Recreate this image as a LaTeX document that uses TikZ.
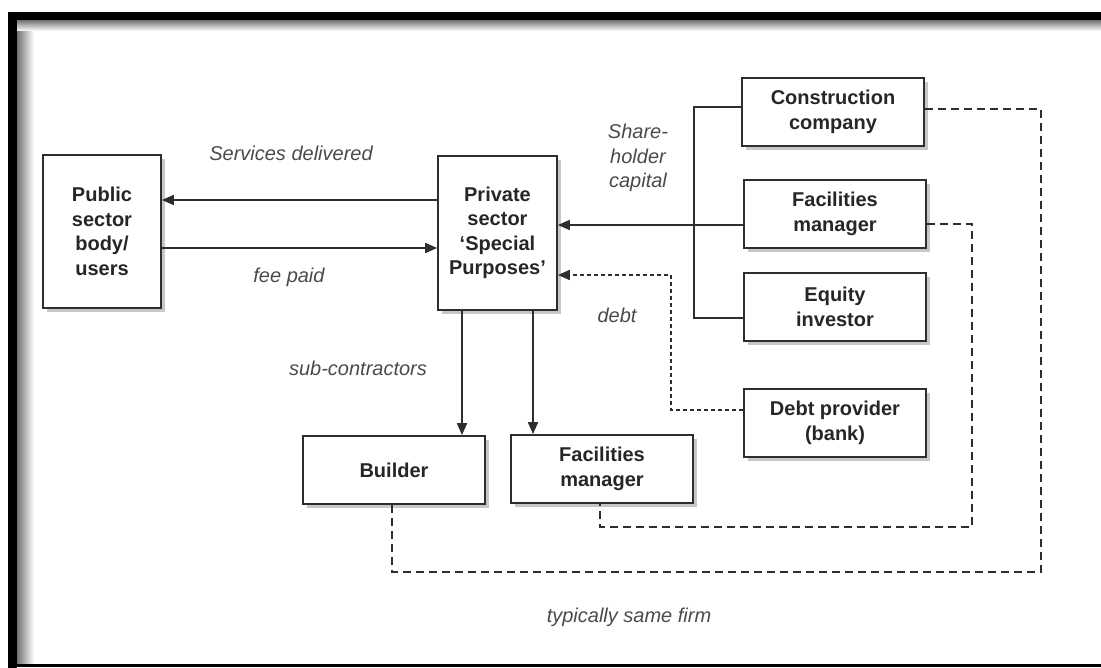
\documentclass[tikz,border=0pt]{standalone}
\usepackage{fontspec}
\setmainfont{Liberation Sans}
\usetikzlibrary{arrows.meta,shadows}
\definecolor{ink}{HTML}{2E2E2E}
\definecolor{lab}{HTML}{4A4A4A}
\begin{document}
\begin{tikzpicture}[x=1pt,y=-1pt,
  box/.style={draw=ink,line width=1.8pt,fill=white,rectangle,inner sep=0pt,
    minimum width=182pt,minimum height=68pt,align=center,text=black!85,
    font=\fontsize{20}{24.5}\selectfont\bfseries,
    drop shadow={shadow xshift=4pt,shadow yshift=-4pt,opacity=0.22,fill=black}},
  lbl/.style={text=lab,align=center,inner sep=0pt,font=\fontsize{20}{24.5}\selectfont\itshape},
  conn/.style={draw=ink,line width=1.8pt},
  arr/.style={conn,-{Triangle[length=12pt,width=10pt]}},
  dashline/.style={conn,dash pattern=on 8pt off 5pt},
  dotline/.style={conn,dash pattern=on 4pt off 3pt}]
\useasboundingbox (0,0) rectangle (1101,668);
% frame
\shade[left color=black!55,right color=white] (17,20) rectangle (34,664);
\shade[top color=black!55,bottom color=white] (17,20) rectangle (1101,31);
\fill[black] (8,12) rectangle (1101,20);
\fill[black] (8,12) rectangle (17,668);
\fill[black] (8,664) rectangle (1101,667);
% boxes
\node[box,minimum width=118pt,minimum height=153pt] (pub) at (102,231.5) {Public\\sector\\body/\\users};
\node[box,minimum width=119pt,minimum height=154pt] (priv) at (497.5,233) {Private\\sector\\`Special\\Purposes'};
\node[box] (cc) at (833,112) {Construction\\company};
\node[box] (fm) at (835,214) {Facilities\\manager};
\node[box] (eq) at (835,307) {Equity\\investor};
\node[box] (debt) at (835,423) {Debt provider\\(bank)};
\node[box] (build) at (394,470) {Builder};
\node[box] (fm2) at (602,469) {Facilities\\manager};
% helper coordinates
\coordinate (ySv) at (0,200);
\coordinate (yFee) at (0,248);
\coordinate (yCC) at (0,107);
\coordinate (yFM) at (0,225);
\coordinate (yEQ) at (0,318);
\coordinate (xSh) at (694,0);
\coordinate (xD) at (671,0);
\coordinate (yD1) at (0,410);
\coordinate (yD2) at (0,275);
\coordinate (xB) at (462,0);
\coordinate (xF) at (533,0);
\coordinate (yCCd) at (0,109);
\coordinate (xO) at (1041,0);
\coordinate (yO) at (0,572);
\coordinate (xBd) at (392,0);
\coordinate (yFMd) at (0,224);
\coordinate (xI) at (972,0);
\coordinate (yI) at (0,527);
\coordinate (xFd) at (600,0);
% connectors
\draw[arr] (priv.west |- ySv) -- (pub.east |- ySv);
\draw[arr] (pub.east |- yFee) -- (priv.west |- yFee);
\draw[conn] (cc.west |- yCC) -- (xSh |- yCC) -- (xSh |- yEQ) -- (eq.west |- yEQ);
\draw[arr] (fm.west |- yFM) -- (priv.east |- yFM);
\draw[dotline,-{Triangle[length=12pt,width=10pt]}] (debt.west |- yD1) -- (xD |- yD1) -- (xD |- yD2) -- (priv.east |- yD2);
\draw[arr] (priv.south -| xB) -- (build.north -| xB);
\draw[arr] (priv.south -| xF) -- (fm2.north -| xF);
\draw[dashline] (cc.east |- yCCd) -- (xO |- yCCd) -- (xO |- yO) -- (xBd |- yO) -- (build.south -| xBd);
\draw[dashline] (fm.east |- yFMd) -- (xI |- yFMd) -- (xI |- yI) -- (xFd |- yI) -- (fm2.south -| xFd);
% labels
\node[lbl] (lsv) at (291,153) {Services delivered};
\node[lbl] (lfee) at (289,277) {fee paid};
\node[lbl] (lsh) at (638,158) {Share-\\holder\\capital};
\node[lbl] (ldebt) at (617,315) {debt};
\node[lbl] (lsub) at (358,368) {sub-contractors};
\node[lbl] (ltyp) at (629,617) {typically same firm};
\end{tikzpicture}
\end{document}
